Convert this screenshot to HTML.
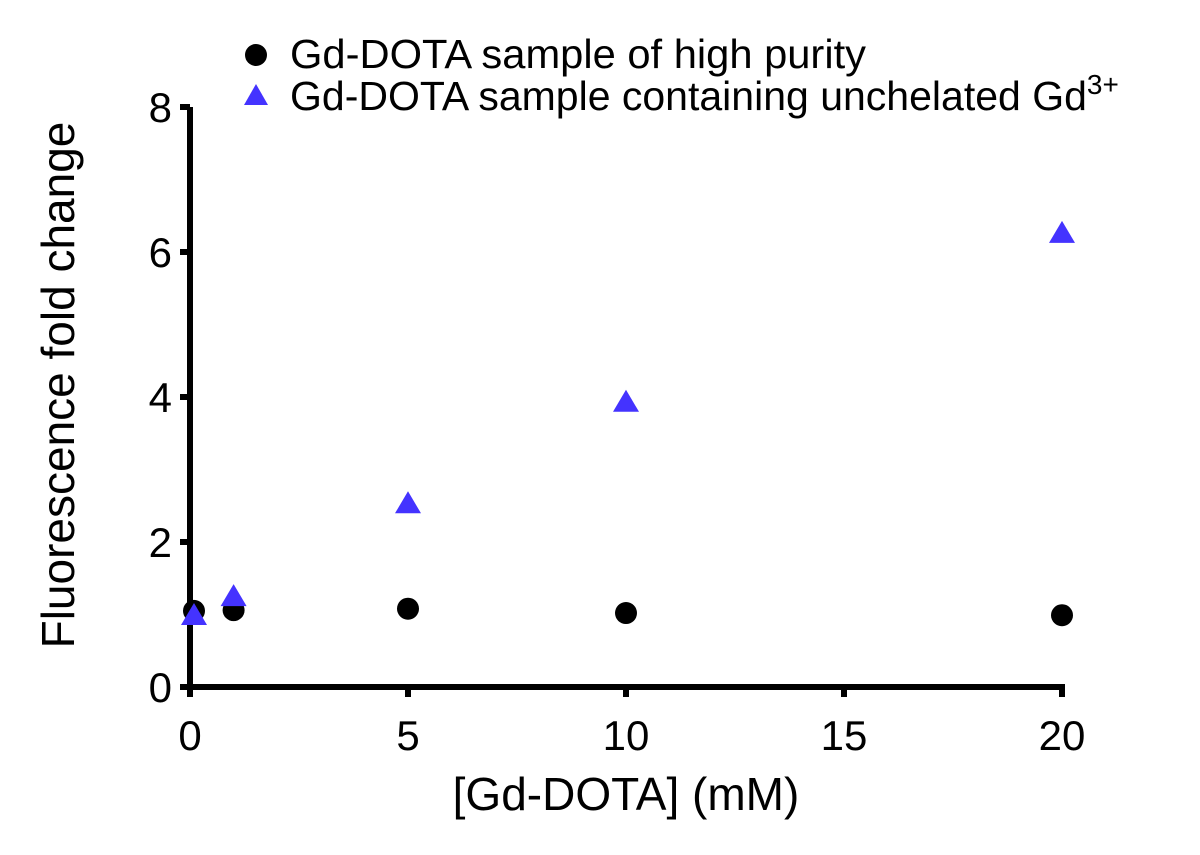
<!DOCTYPE html>
<html><head><style>
body{margin:0;background:#fff;}
svg text{font-family:"Liberation Sans",Arial,sans-serif;fill:#000;}
</style></head><body>
<svg id="chart" width="1200" height="850" viewBox="0 0 1200 850" xmlns="http://www.w3.org/2000/svg">
<g id="axes"></g>
<g id="marks"></g>
<g>
  <circle cx="256" cy="55" r="11" fill="#000"/>
  <text x="290" y="68" font-size="41" textLength="576" lengthAdjust="spacingAndGlyphs">Gd-DOTA sample of high purity</text>
  <polygon points="256,84 244,105 268,105" fill="#4433ff"/>
  <text x="290" y="110" font-size="41">Gd-DOTA sample containing unchelated Gd<tspan dy="-16" font-size="28">3+</tspan></text>
</g>
<text x="626" y="810" font-size="46" text-anchor="middle">[Gd-DOTA] (mM)</text>
<text transform="translate(74,385) rotate(-90)" font-size="46" text-anchor="middle">Fluorescence fold change</text>
</svg>
<script>
const xTicks=[0,5,10,15,20];
const yTicks=[0,2,4,6,8];
const circleX=[0,1,5,10,20];
const circleY=[1.05,1.06,1.08,1.02,0.99];
const triX=[0,1,5,10,20];
const triY=[0.98,1.24,2.52,3.92,6.25];
const X=v=>190+v*43.6;
const Y=v=>687-v*72.5;
const NS="http://www.w3.org/2000/svg";
const axes=document.getElementById('axes'),marks=document.getElementById('marks');
function mk(tag,attrs,parent){const e=document.createElementNS(NS,tag);for(const k in attrs)e.setAttribute(k,attrs[k]);parent.appendChild(e);return e;}
let l=mk('line',{x1:190,y1:Y(8),x2:190,y2:697,stroke:'#000','stroke-width':6},axes);


l=mk('line',{x1:180,y1:687,x2:X(20)+3,y2:687,stroke:'#000','stroke-width':6},axes);


xTicks.forEach(t=>{
 const tk=mk('line',{x1:X(t),y1:687,x2:X(t),y2:697,stroke:'#000','stroke-width':6},axes);
 
 
 const tx=mk('text',{x:X(t),y:750,'font-size':42,'text-anchor':'middle'},axes);
 tx.textContent=t;
 
 
});
yTicks.forEach(t=>{
 const tk=mk('line',{x1:180,y1:Y(t),x2:190,y2:Y(t),stroke:'#000','stroke-width':6},axes);
 
 
 const tx=mk('text',{x:172,y:Y(t)+15,'font-size':42,'text-anchor':'end'},axes);
 tx.textContent=t;
 
 
});
circleX.forEach((v,i)=>{
 const c=mk('circle',{cx:X(v)+(v===0?4:0),cy:Y(circleY[i]),r:11,fill:'#000'},marks);
 
 
});
triX.forEach((v,i)=>{
 const cx=X(v)+(v===0?4:0),cy=Y(triY[i]);
 const p=mk('polygon',{points:`${cx},${cy-13} ${cx-13},${cy+9} ${cx+13},${cy+9}`,fill:'#4433ff'},marks);
 
 
});
</script>
</body></html>
